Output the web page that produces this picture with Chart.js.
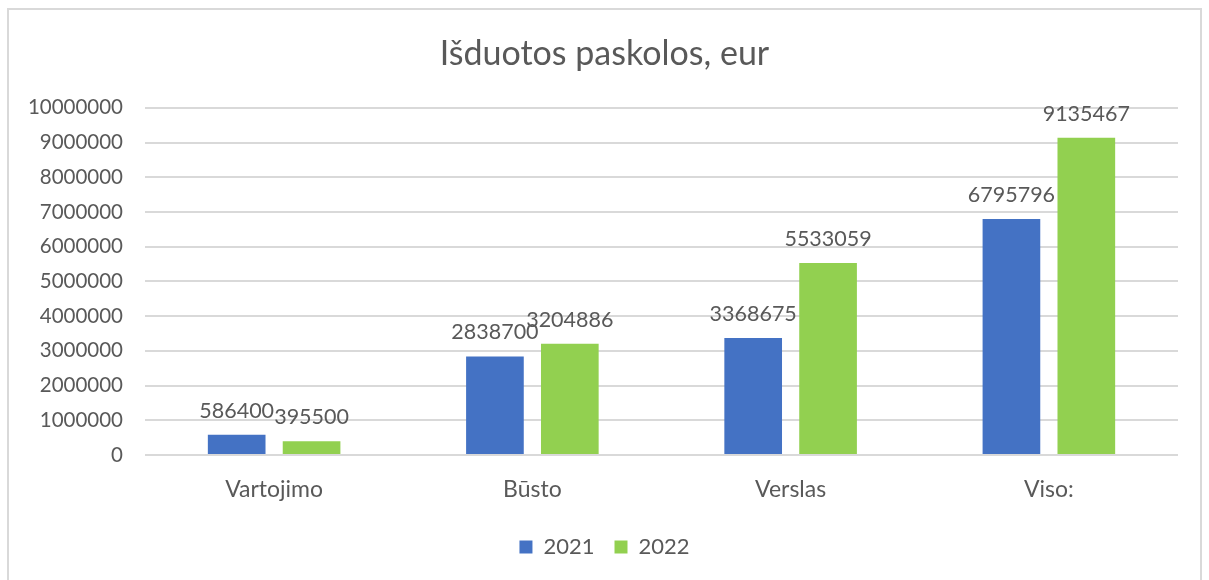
<!DOCTYPE html>
<html>
<head>
<meta charset="utf-8">
<script src="https://cdn.jsdelivr.net/npm/chart.js@4.4.0/dist/chart.umd.min.js"></script>
<style>
  html, body { margin: 0; padding: 0; background: #ffffff; }
  #wrap { position: relative; width: 1209px; height: 580px; overflow: hidden; }
  #frame { position: absolute; left: 7px; top: 8px; width: 1195px; height: 600px; border: 2px solid #d9d9d9; box-sizing: border-box; }
  canvas { position: absolute; left: 0; top: 0; }
</style>
</head>
<body>
<div id="wrap">
  <div id="frame"></div>
  <canvas id="c" width="1209" height="580"></canvas>
</div>
<script>
const categories = ["Vartojimo", "Būsto", "Verslas", "Viso:"];
const series2021 = [586400, 2838700, 3368675, 6795796];
const series2022 = [395500, 3204886, 5533059, 9135467];
const seriesNames = ["2021", "2022"];
const chartTitle = "Išduotos paskolos, eur";

const FONT = "Lato, 'Open Sans', sans-serif";
const TXT = "#595959";

const labelPlugin = {
  id: 'barLabels',
  afterDatasetsDraw(chart) {
    const ctx = chart.ctx;
    ctx.save();
    ctx.font = "21.5px " + FONT;
    ctx.fillStyle = TXT;
    ctx.textAlign = 'center';
    ctx.textBaseline = 'middle';
    chart.data.datasets.forEach((ds, i) => {
      const meta = chart.getDatasetMeta(i);
      meta.data.forEach((bar, j) => {
        ctx.fillText(String(ds.data[j]), bar.x, bar.y - 24);
      });
    });
    ctx.restore();
  }
};

new Chart(document.getElementById('c'), {
  type: 'bar',
  data: {
    labels: categories,
    datasets: [
      { label: seriesNames[0], data: series2021, backgroundColor: '#4472C4', borderWidth: 0 },
      { label: seriesNames[1], data: series2022, backgroundColor: '#92D050', borderWidth: 0 }
    ]
  },
  options: {
    responsive: false,
    animation: false,
    devicePixelRatio: 1,
    layout: { padding: { left: 0, right: 0, top: 0, bottom: 12 } },
    datasets: { bar: { categoryPercentage: 0.58, barPercentage: 0.77 } },
    plugins: {
      title: {
        display: true,
        text: chartTitle,
        color: TXT,
        font: { family: FONT, size: 34, weight: 'normal', lineHeight: 1.2 },
        padding: { top: 34, bottom: 33 }
      },
      legend: {
        position: 'bottom',
        labels: {
          color: TXT,
          font: { family: FONT, size: 22 },
          boxWidth: 13,
          boxHeight: 13,
          padding: 20
        }
      },
      tooltip: { enabled: false }
    },
    scales: {
      x: {
        grid: { display: false, drawTicks: false },
        border: { display: false },
        ticks: { color: TXT, font: { family: FONT, size: 23 }, padding: 21 },
        afterFit(scale) { scale.height = 61; }
      },
      y: {
        min: 0,
        max: 10000000,
        grid: { color: '#d9d9d9', lineWidth: 2, drawTicks: false },
        border: { display: false },
        ticks: {
          stepSize: 1000000,
          color: TXT,
          font: { family: FONT, size: 20.5 },
          padding: 22,
          callback: (v) => String(v)
        },
        afterFit(scale) { scale.width = 145; }
      },
      yRight: {
        position: 'right',
        min: 0,
        max: 10000000,
        grid: { display: false, drawTicks: false },
        border: { display: false },
        ticks: { display: false },
        afterFit(scale) { scale.width = 31; }
      }
    }
  },
  plugins: [labelPlugin]
});
</script>
</body>
</html>
